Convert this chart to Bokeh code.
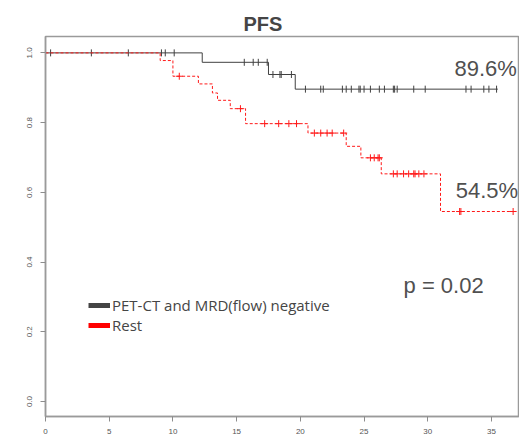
import numpy as np
from bokeh.plotting import figure
from bokeh.models import Range1d, Label, Legend, LegendItem, FixedTicker, PrintfTickFormatter
from bokeh.embed import file_html
from bokeh.resources import INLINE

# ---- data ----
neg_time = [0.0, 12.3, 17.5, 19.6, 35.5]
neg_surv = [1.0, 0.973, 0.938, 0.896, 0.896]
neg_censor = [0.4, 3.6, 6.5, 9.1, 9.4, 10.1, 15.6, 16.3, 16.7, 17.4, 17.85, 18.4, 18.5,
              19.3, 20.4, 21.6, 21.8, 23.3, 23.6, 24.0, 24.6, 24.7, 25.0, 25.5, 26.2,
              26.6, 27.3, 27.4, 27.6, 28.9, 29.8, 33.0, 33.4, 34.4, 34.8, 35.4]

rest_time = [0.0, 9.0, 10.0, 12.0, 13.1, 13.5, 14.5, 15.7, 20.6, 23.6, 24.75, 26.35, 31.0, 36.7]
rest_surv = [1.0, 0.978, 0.933, 0.911, 0.885, 0.864, 0.840, 0.797, 0.770, 0.732, 0.699,
             0.653, 0.545, 0.545]
rest_censor = [10.5, 15.3, 17.2, 18.3, 19.1, 19.7, 21.1, 21.6, 22.1, 22.5, 23.4, 25.5,
               25.8, 26.1, 26.2, 27.3, 27.6, 28.1, 28.5, 28.9, 29.0, 29.3, 29.7, 32.5,
               32.6, 36.7]

x_ticks = [0, 5, 10, 15, 20, 25, 30, 35]
y_ticks = [0.0, 0.2, 0.4, 0.6, 0.8, 1.0]
series_names = ["PET-CT and MRD(flow) negative", "Rest"]
final_labels = ["89.6%", "54.5%"]
p_label = "p = 0.02"


def surv_at(times, survs, ts):
    idx = np.searchsorted(np.array(times), np.array(ts), side="right") - 1
    return [survs[i] for i in idx]


GRAY = "#8c8c8c"
TXT = "#454545"
BLACK = "#404040"
RED = "#ff1a1a"

p = figure(width=519, height=437, output_backend="svg", toolbar_location=None,
           x_range=Range1d(0, 37.2), y_range=Range1d(-0.043, 1.047),
           min_border_left=45, min_border_right=0, min_border_top=36, min_border_bottom=21,
           title="PFS")
p.title.text_font = "Liberation Sans"
p.title.text_font_size = "20px"
p.title.text_font_style = "bold"
p.title.text_color = TXT
p.title.align = "left"
p.title.offset = 198
p.title.standoff = 4

p.xgrid.visible = False
p.ygrid.visible = False
p.outline_line_color = "#9a9a9a"
p.outline_line_width = 1.5

for ax in (p.xaxis[0], p.yaxis[0]):
    ax.axis_line_color = "#9a9a9a"
    ax.axis_line_width = 1.5
    ax.major_tick_line_color = GRAY
    ax.major_tick_in = 0
    ax.major_tick_out = 5
    ax.minor_tick_line_color = None
    ax.major_label_text_font = "Liberation Sans"
    ax.major_label_text_font_size = "8px"
    ax.major_label_text_color = "#555555"
p.xaxis[0].ticker = FixedTicker(ticks=x_ticks)
p.yaxis[0].ticker = FixedTicker(ticks=y_ticks)
p.yaxis[0].formatter = PrintfTickFormatter(format="%.1f")
p.yaxis[0].major_label_orientation = "vertical"
p.yaxis[0].major_label_standoff = 8
p.xaxis[0].major_label_standoff = 7

# curves
p.step(neg_time, neg_surv, mode="after", line_color=BLACK, line_width=1)
p.scatter(neg_censor, surv_at(neg_time, neg_surv, neg_censor), marker="dash", angle=np.pi / 2,
          size=7, line_color=BLACK, line_width=1)
p.step(rest_time, rest_surv, mode="after", line_color=RED, line_width=1, line_dash="3 2")
p.scatter(rest_censor, surv_at(rest_time, rest_surv, rest_censor), marker="cross",
          size=7, line_color=RED, line_width=1)

# legend (thick swatches; placeholder renderers draw nothing in the plot)
r1 = p.line([np.nan], [np.nan], line_color="#444444", line_width=5)
r2 = p.line([np.nan], [np.nan], line_color="#ff0000", line_width=5)
legend = Legend(items=[LegendItem(label=series_names[0], renderers=[r1]),
                       LegendItem(label=series_names[1], renderers=[r2])],
                location=(43, 81), border_line_color=None, background_fill_alpha=0,
                padding=0, margin=0, spacing=0, glyph_width=22, glyph_height=20,
                label_standoff=2, label_height=20,
                label_text_font="Open Sans", label_text_font_size="15px",
                label_text_color=TXT)
p.add_layout(legend, "center")

# annotations
for xx, yy, t in [(32.1, 0.955, final_labels[0]), (32.2, 0.605, final_labels[1]),
                  (28.1, 0.333, p_label)]:
    p.add_layout(Label(x=xx, y=yy, text=t, text_font="Liberation Sans", text_font_size="22px",
                       text_color="#505050", text_baseline="middle", text_align="left"))

open("out.html", "w").write(file_html(p, INLINE))
